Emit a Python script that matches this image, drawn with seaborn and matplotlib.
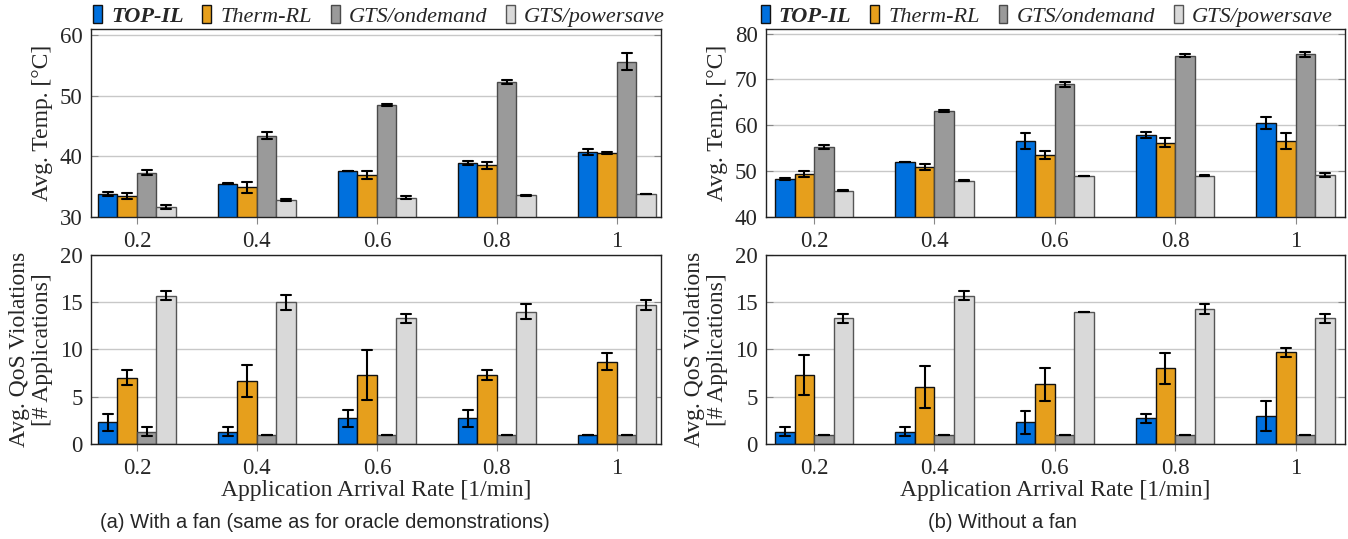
import numpy as np
import pandas as pd
import matplotlib
matplotlib.use("Agg")
import matplotlib.pyplot as plt
import seaborn as sns
from matplotlib.patches import Patch

# ---------------- data ----------------
rates = ["0.2", "0.4", "0.6", "0.8", "1"]
methods = ["TOP-IL", "Therm-RL", "GTS/ondemand", "GTS/powersave"]

# (a) with a fan -- temperature (mean, error)
a_temp_topil = [33.8, 35.5, 37.6, 38.9, 40.7]
a_temp_topil_err = [0.3, 0.1, 0.05, 0.3, 0.5]
a_temp_therm = [33.5, 34.9, 36.9, 38.5, 40.6]
a_temp_therm_err = [0.5, 0.9, 0.7, 0.6, 0.2]
a_temp_ondemand = [37.3, 43.4, 48.5, 52.3, 55.6]
a_temp_ondemand_err = [0.4, 0.6, 0.2, 0.3, 1.4]
a_temp_powersave = [31.7, 32.8, 33.2, 33.6, 33.8]
a_temp_powersave_err = [0.3, 0.2, 0.3, 0.1, 0.05]

# (a) with a fan -- QoS violations
a_qos_topil = [2.3, 1.3, 2.7, 2.7, 1.0]
a_qos_topil_err = [0.9, 0.5, 0.9, 0.9, 0.0]
a_qos_therm = [7.0, 6.7, 7.3, 7.3, 8.7]
a_qos_therm_err = [0.8, 1.7, 2.6, 0.5, 0.9]
a_qos_ondemand = [1.3, 1.0, 1.0, 1.0, 1.0]
a_qos_ondemand_err = [0.5, 0.0, 0.0, 0.0, 0.0]
a_qos_powersave = [15.7, 15.0, 13.3, 14.0, 14.7]
a_qos_powersave_err = [0.5, 0.8, 0.5, 0.8, 0.5]

# (b) without a fan -- temperature
b_temp_topil = [48.3, 52.0, 56.6, 57.9, 60.5]
b_temp_topil_err = [0.2, 0.1, 1.7, 0.7, 1.2]
b_temp_therm = [49.4, 50.9, 53.5, 56.2, 56.6]
b_temp_therm_err = [0.6, 0.6, 0.8, 1.0, 1.8]
b_temp_ondemand = [55.2, 63.1, 68.9, 75.2, 75.5]
b_temp_ondemand_err = [0.4, 0.3, 0.6, 0.4, 0.5]
b_temp_powersave = [45.7, 47.9, 49.0, 49.0, 49.2]
b_temp_powersave_err = [0.1, 0.1, 0.05, 0.1, 0.5]

# (b) without a fan -- QoS violations
b_qos_topil = [1.3, 1.3, 2.3, 2.7, 3.0]
b_qos_topil_err = [0.5, 0.5, 1.2, 0.5, 1.6]
b_qos_therm = [7.3, 6.0, 6.3, 8.0, 9.7]
b_qos_therm_err = [2.1, 2.2, 1.7, 1.6, 0.5]
b_qos_ondemand = [1.0, 1.0, 1.0, 1.0, 1.0]
b_qos_ondemand_err = [0.0, 0.0, 0.0, 0.0, 0.0]
b_qos_powersave = [13.3, 15.7, 14.0, 14.3, 13.3]
b_qos_powersave_err = [0.5, 0.5, 0.0, 0.5, 0.5]

colors = ["#0070DD", "#E69F1C", "#9A9A9A", "#D9D9D9"]
edges = ["#111111", "#111111", "#4a4a4a", "#555555"]

SERIF = "Liberation Serif"
TICK_FS = 16.5
LABEL_FS = 17


def make_df(means_list, errs_list):
    rows = []
    for meth, means, errs in zip(methods, means_list, errs_list):
        for r, m, e in zip(rates, means, errs):
            rows.append((r, meth, m - e))
            rows.append((r, meth, m + e))
    return pd.DataFrame(rows, columns=["rate", "method", "value"])


def draw(ax, df, ylim, yticks, xlim, ylabel, xlabel=None):
    sns.barplot(data=df, x="rate", y="value", hue="method", order=rates,
                hue_order=methods, palette=colors, saturation=1, width=0.65,
                estimator="mean", errorbar=lambda v: (v.min(), v.max()),
                capsize=0.33, err_kws={"color": "black", "linewidth": 1.5},
                edgecolor="black", linewidth=1.0, legend=False, ax=ax)
    for cont, ec in zip(ax.containers, edges):
        for p in cont:
            p.set_edgecolor(ec)
    ax.set_ylim(*ylim)
    ax.set_yticks(yticks)
    ax.set_xlim(*xlim)
    ax.yaxis.grid(True, color="#c8c8c8", linewidth=1.0)
    ax.xaxis.grid(False)
    ax.set_axisbelow(True)
    ax.tick_params(axis="y", direction="in", left=True, right=True,
                   color="#888888", length=5, labelsize=TICK_FS, pad=6)
    ax.tick_params(axis="x", direction="out", bottom=True, color="#888888",
                   length=5, labelsize=TICK_FS, pad=5)
    for s in ax.spines.values():
        s.set_color("#222222")
        s.set_linewidth(1.0)
        s.set_visible(True)
    ax.set_ylabel(ylabel, fontsize=LABEL_FS, labelpad=5, linespacing=1.1)
    if xlabel:
        ax.set_xlabel(xlabel, fontsize=LABEL_FS, labelpad=1)
    else:
        ax.set_xlabel("")


sns.set_style("white")
plt.rcParams["font.family"] = SERIF

fig = plt.figure(figsize=(13.48, 5.39), dpi=100)
ax_a_t = fig.add_axes([0.0675, 0.5974, 0.4228, 0.3488])
ax_a_q = fig.add_axes([0.0675, 0.1763, 0.4228, 0.3506])
ax_b_t = fig.add_axes([0.5682, 0.5974, 0.4295, 0.3488])
ax_b_q = fig.add_axes([0.5682, 0.1763, 0.4295, 0.3506])

df_a_t = make_df([a_temp_topil, a_temp_therm, a_temp_ondemand, a_temp_powersave],
                 [a_temp_topil_err, a_temp_therm_err, a_temp_ondemand_err, a_temp_powersave_err])
df_a_q = make_df([a_qos_topil, a_qos_therm, a_qos_ondemand, a_qos_powersave],
                 [a_qos_topil_err, a_qos_therm_err, a_qos_ondemand_err, a_qos_powersave_err])
df_b_t = make_df([b_temp_topil, b_temp_therm, b_temp_ondemand, b_temp_powersave],
                 [b_temp_topil_err, b_temp_therm_err, b_temp_ondemand_err, b_temp_powersave_err])
df_b_q = make_df([b_qos_topil, b_qos_therm, b_qos_ondemand, b_qos_powersave],
                 [b_qos_topil_err, b_qos_therm_err, b_qos_ondemand_err, b_qos_powersave_err])

temp_label = "Avg. Temp. [°C]"
qos_label = "Avg. QoS Violations\n[# Applications]"
xlab = "Application Arrival Rate [1/min]"

draw(ax_a_t, df_a_t, (30, 61), [30, 40, 50, 60], (-0.383, 4.367), temp_label)
draw(ax_a_q, df_a_q, (0, 20), [0, 5, 10, 15, 20], (-0.383, 4.367), qos_label, xlab)
draw(ax_b_t, df_b_t, (40, 81), [40, 50, 60, 70, 80], (-0.40, 4.41), temp_label)
draw(ax_b_q, df_b_q, (0, 20), [0, 5, 10, 15, 20], (-0.40, 4.41), qos_label, xlab)

# legends
for ax, anchor_x in ((ax_a_t, 0.505), (ax_b_t, 0.485)):
    handles = [Patch(facecolor=c, edgecolor=e, linewidth=1.0) for c, e in zip(colors, edges)]
    leg = ax.legend(handles, methods, loc="lower center", bbox_to_anchor=(anchor_x, 0.965),
                    ncol=4, frameon=False, handlelength=0.4, handleheight=0.9,
                    handletextpad=0.4, columnspacing=0.85, borderaxespad=0.0,
                    prop={"family": SERIF, "style": "italic", "size": 16})
    t0 = leg.get_texts()[0]
    t0.set_fontweight("bold")

# captions
cap_font = ["Liberation Sans Narrow", "Liberation Sans"]
fig.text(0.241, 0.031, "(a) With a fan (same as for oracle demonstrations)",
         ha="center", va="center", fontsize=14.5, family=cap_font)
fig.text(0.744, 0.031, "(b) Without a fan", ha="center", va="center",
         fontsize=14.5, family=cap_font)

fig.savefig("out.png", dpi=100)
